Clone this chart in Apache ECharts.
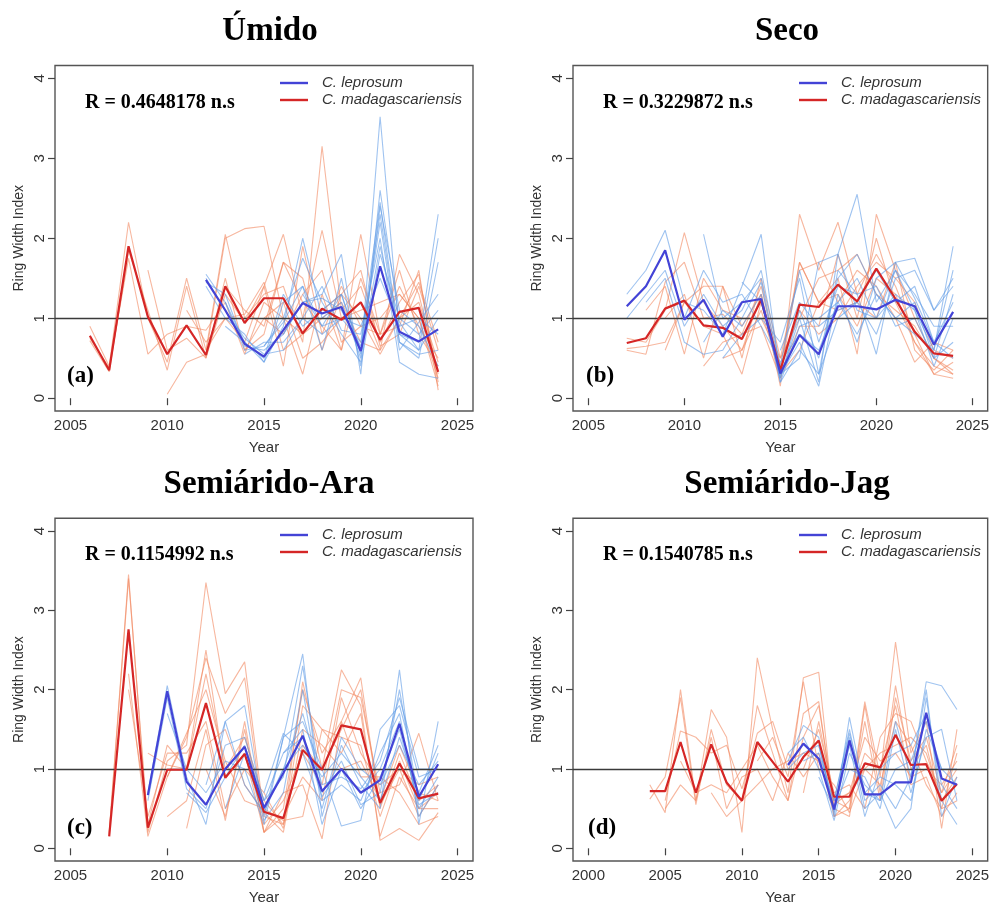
<!DOCTYPE html>
<html>
<head>
<meta charset="utf-8">
<script src="https://cdn.jsdelivr.net/npm/echarts@6/dist/echarts.min.js"></script>
<style>
  html, body { margin: 0; padding: 0; background: #fff; }
  #chart { width: 992px; height: 906px; }
</style>
</head>
<body>
<div id="chart"></div>
<script>
// titles and labels
const panelTitles = ['Úmido', 'Seco', 'Semiárido-Ara', 'Semiárido-Jag']
const panelTags = ['(a)', '(b)', '(c)', '(d)']
const rLabels = ['R = 0.4648178 n.s', 'R = 0.3229872 n.s', 'R = 0.1154992 n.s', 'R = 0.1540785 n.s']
const xTicksABC = [2005, 2010, 2015, 2020, 2025]
const xTicksD = [2000, 2005, 2010, 2015, 2020, 2025]
const yTicks = [0, 1, 2, 3, 4]

// (a) Úmido
const startMeanLepA = 2012
const meanLepA = [1.48, 1.10, 0.68, 0.52, 0.85, 1.19, 1.06, 1.14, 0.59, 1.65, 0.83, 0.71, 0.86]
const startMeanMadA = 2006
const meanMadA = [0.78, 0.35, 1.90, 1.02, 0.55, 0.91, 0.54, 1.40, 0.94, 1.25, 1.25, 0.81, 1.12, 0.98, 1.20, 0.73, 1.08, 1.13, 0.33]
const startsLepA = [2012, 2012, 2012, 2013, 2013, 2014, 2015, 2016, 2012, 2017]
const lepA = [
  [1.55, 1.20, 0.70, 0.45, 0.90, 2.00, 1.00, 1.20, 0.50, 3.52, 0.80, 0.70, 2.30],
  [1.45, 1.30, 0.65, 0.60, 0.80, 1.20, 1.30, 1.80, 0.30, 2.60, 0.95, 0.60, 2.00],
  [1.40, 1.00, 0.80, 0.45, 1.20, 1.40, 0.90, 1.00, 0.70, 2.45, 0.70, 0.50, 1.70],
  [1.20, 0.60, 0.65, 1.00, 1.75, 1.20, 0.80, 0.45, 2.40, 1.10, 0.90, 0.40],
  [0.90, 0.70, 0.50, 1.30, 0.90, 1.10, 1.30, 0.60, 2.20, 0.60, 0.95, 1.30],
  [0.55, 0.70, 0.70, 1.00, 1.40, 0.85, 0.80, 2.00, 0.45, 0.30, 0.25],
  [0.65, 0.95, 1.40, 0.60, 1.50, 0.40, 1.80, 1.00, 0.80, 1.10],
  [0.80, 1.20, 1.25, 1.10, 0.65, 2.30, 0.70, 0.55, 0.60],
  [1.50, 1.10, 0.75, 0.55, 0.60, 1.00, 0.80, 1.00, 0.90, 1.50, 0.90, 1.00, 0.80],
  [1.30, 0.90, 1.30, 0.55, 1.90, 0.80, 0.60, 1.00]
]
const startsMadA = [2006, 2006, 2006, 2010, 2009, 2012, 2013, 2014, 2011, 2015]
const madA = [
  [0.90, 0.40, 2.20, 1.00, 0.45, 1.50, 0.60, 2.05, 1.00, 1.30, 1.40, 0.70, 3.15, 1.10, 1.40, 0.70, 1.20, 1.55, 0.20],
  [0.72, 0.33, 1.85, 1.10, 0.35, 1.40, 0.50, 1.30, 0.95, 1.40, 2.05, 1.00, 2.10, 1.00, 1.20, 0.60, 1.80, 1.30, 0.30],
  [0.75, 0.38, 1.75, 0.55, 0.80, 0.90, 0.85, 1.20, 0.55, 1.20, 1.00, 0.30, 1.30, 0.60, 2.05, 0.80, 0.90, 1.60, 0.10],
  [0.05, 0.45, 0.55, 2.00, 2.12, 2.15, 1.00, 0.80, 1.10, 1.30, 1.00, 0.55, 1.00, 1.20, 0.45],
  [1.60, 0.60, 0.75, 0.50, 1.50, 0.60, 0.80, 1.70, 1.20, 0.90, 0.60, 1.50, 0.80, 1.40, 0.90, 0.50],
  [0.60, 1.00, 0.70, 1.40, 0.40, 1.90, 0.80, 1.40, 0.90, 1.00, 1.30, 1.00, 0.25],
  [1.40, 1.10, 0.90, 1.70, 1.50, 0.60, 1.30, 1.60, 0.65, 0.80, 1.40, 0.60],
  [0.60, 1.00, 0.80, 1.30, 1.60, 0.70, 0.90, 0.80, 1.60, 0.80, 0.40],
  [1.10, 0.70, 1.00, 1.05, 1.45, 0.60, 0.80, 1.00, 1.20, 0.70, 0.60, 1.00, 1.45, 0.70],
  [1.00, 1.20, 0.50, 0.70, 1.00, 1.10, 1.20, 1.30, 1.00, 0.15]
]

// (b) Seco
const startMeanLepB = 2007
const meanLepB = [1.15, 1.40, 1.85, 0.98, 1.23, 0.77, 1.20, 1.24, 0.31, 0.79, 0.55, 1.15, 1.15, 1.11, 1.23, 1.15, 0.67, 1.08]
const startMeanMadB = 2007
const meanMadB = [0.69, 0.75, 1.12, 1.22, 0.91, 0.88, 0.74, 1.23, 0.35, 1.17, 1.14, 1.42, 1.21, 1.62, 1.24, 0.83, 0.56, 0.53]
const startsLepB = [2007, 2007, 2008, 2011, 2010, 2012, 2011, 2013, 2015, 2015]
const lepB = [
  [1.30, 1.60, 2.10, 1.20, 1.10, 0.80, 1.40, 2.05, 0.25, 1.00, 0.20, 1.80, 2.55, 1.20, 1.60, 1.10, 0.60, 1.90],
  [1.00, 1.30, 1.60, 0.90, 1.30, 0.90, 1.10, 1.60, 0.40, 1.60, 0.70, 1.40, 1.30, 0.55, 1.70, 1.75, 1.10, 1.50],
  [1.20, 1.50, 0.70, 0.55, 0.60, 1.00, 1.45, 0.20, 0.60, 0.30, 1.00, 1.20, 1.60, 1.20, 1.40, 0.70, 1.20],
  [2.05, 1.00, 1.20, 1.50, 0.30, 0.50, 1.70, 1.80, 1.10, 1.00, 1.60, 1.30, 0.90, 0.90],
  [1.00, 1.60, 1.20, 1.30, 0.90, 0.45, 0.80, 0.60, 1.20, 0.80, 1.30, 1.00, 1.20, 0.50, 1.30],
  [0.50, 0.80, 1.00, 0.70, 1.50, 0.30, 1.60, 1.30, 1.40, 0.90, 1.00, 0.50, 0.70],
  [0.70, 1.10, 0.90, 1.30, 0.20, 0.90, 1.00, 1.20, 1.50, 1.00, 1.30, 1.10, 0.40, 1.00],
  [1.45, 1.20, 0.25, 1.10, 0.50, 1.50, 1.80, 1.30, 1.00, 0.80, 0.60, 1.60],
  [0.30, 0.70, 0.15, 1.30, 0.70, 1.50, 1.70, 1.25, 0.70, 0.50],
  [0.60, 1.20, 0.90, 1.10, 1.20, 0.80, 1.50, 1.60, 1.10, 1.40]
]
const startsMadB = [2007, 2007, 2007, 2008, 2009, 2011, 2009, 2012]
const madB = [
  [0.75, 0.70, 1.10, 2.07, 1.20, 0.90, 0.60, 1.30, 0.15, 2.30, 1.60, 2.20, 1.30, 1.80, 1.40, 0.80, 0.30, 0.25],
  [0.60, 0.55, 1.45, 1.70, 1.00, 1.05, 0.80, 1.40, 0.40, 1.70, 1.20, 1.50, 0.55, 2.30, 1.60, 1.00, 0.50, 0.35],
  [0.62, 0.65, 0.70, 1.20, 0.90, 0.80, 0.30, 1.20, 0.30, 0.90, 0.90, 1.80, 1.00, 2.00, 1.20, 0.70, 0.40, 0.30],
  [1.10, 1.40, 0.55, 1.50, 1.10, 1.00, 1.00, 0.50, 1.60, 1.70, 1.20, 1.60, 1.40, 1.00, 0.45, 0.70, 0.60],
  [1.00, 1.30, 0.50, 1.40, 0.90, 1.30, 0.35, 1.10, 0.80, 1.00, 1.40, 1.70, 1.50, 1.20, 0.60, 0.50],
  [0.40, 0.70, 0.80, 0.90, 0.25, 1.70, 1.20, 1.30, 0.90, 1.50, 1.30, 0.70, 0.30, 0.45],
  [0.60, 1.20, 1.40, 1.40, 0.50, 1.50, 0.50, 1.00, 1.50, 1.60, 1.80, 1.30, 1.10, 0.90, 0.50, 0.30],
  [0.50, 0.60, 1.10, 0.30, 0.60, 1.20, 1.10, 1.20, 1.00, 1.70, 0.60, 0.35, 0.60]
]

// (c) Semiárido-Ara
const startMeanLepC = 2009
const meanLepC = [0.67, 1.98, 0.84, 0.55, 1.00, 1.28, 0.51, 0.95, 1.42, 0.72, 1.00, 0.70, 0.86, 1.57, 0.65, 1.06]
const startMeanMadC = 2007
const meanMadC = [0.15, 2.76, 0.26, 0.99, 0.99, 1.83, 0.89, 1.19, 0.46, 0.38, 1.24, 0.99, 1.55, 1.50, 0.57, 1.07, 0.63, 0.69]
const startsLepC = [2009, 2009, 2010, 2011, 2012, 2013, 2015, 2015, 2016]
const lepC = [
  [0.70, 2.05, 0.90, 0.30, 1.60, 1.80, 0.40, 1.40, 2.45, 0.40, 1.30, 0.80, 0.50, 2.25, 0.30, 1.60],
  [0.60, 1.90, 0.75, 0.50, 1.30, 1.40, 0.60, 0.90, 2.30, 0.70, 1.10, 0.55, 0.70, 2.00, 0.60, 1.20],
  [1.70, 1.00, 0.70, 1.10, 1.00, 0.30, 1.40, 1.60, 1.00, 0.28, 0.35, 1.50, 1.80, 0.90, 1.00],
  [0.70, 0.45, 0.90, 1.30, 0.60, 1.20, 1.50, 0.30, 1.00, 0.70, 1.00, 1.60, 0.50, 0.90],
  [0.80, 1.60, 0.80, 0.45, 1.00, 1.30, 0.90, 1.20, 0.90, 0.60, 1.40, 0.70, 1.30],
  [0.50, 1.20, 0.35, 0.70, 2.00, 0.60, 0.80, 0.60, 1.20, 1.70, 0.40, 0.80],
  [0.70, 1.45, 1.20, 0.50, 1.40, 1.00, 0.80, 1.30, 0.80, 1.10],
  [0.50, 1.00, 1.70, 0.80, 0.90, 0.75, 1.10, 1.90, 1.00, 1.00],
  [1.20, 1.40, 0.65, 1.00, 0.50, 0.90, 1.50, 0.55, 0.70]
]
const startsMadC = [2007, 2007, 2008, 2008, 2010, 2010, 2011, 2012, 2009]
const madC = [
  [0.20, 3.45, 0.20, 1.10, 1.30, 3.35, 1.95, 2.35, 0.40, 0.30, 2.10, 1.00, 2.25, 1.80, 0.10, 0.25, 0.10, 0.45],
  [0.18, 3.40, 0.30, 1.30, 1.00, 2.50, 0.90, 1.20, 0.20, 0.50, 2.00, 1.20, 1.60, 2.15, 0.50, 1.20, 0.60, 0.80],
  [2.20, 0.15, 0.90, 1.40, 2.40, 1.70, 2.15, 0.30, 0.60, 1.20, 0.80, 2.00, 1.90, 0.70, 0.80, 1.45, 0.60],
  [2.00, 0.40, 1.20, 1.20, 1.60, 0.50, 1.00, 0.70, 0.25, 1.80, 1.50, 1.40, 1.30, 0.40, 1.10, 0.50, 0.70],
  [0.40, 0.60, 1.50, 0.35, 1.60, 0.20, 0.40, 0.90, 0.60, 1.90, 1.20, 0.80, 1.00, 0.80, 0.90],
  [0.90, 1.45, 2.00, 1.10, 0.60, 0.50, 0.35, 0.40, 1.50, 1.20, 1.70, 0.15, 0.90, 0.50, 0.50],
  [0.25, 1.30, 1.50, 0.80, 0.45, 0.20, 1.50, 1.30, 1.00, 1.10, 0.60, 1.30, 0.70, 0.60],
  [1.00, 0.40, 1.50, 0.20, 0.70, 0.80, 0.12, 1.60, 0.90, 0.90, 0.70, 0.30, 0.40],
  [1.20, 1.05, 1.00, 2.20, 1.00, 1.40, 0.60, 0.30, 1.30, 1.00, 1.50, 2.00, 0.55, 1.00, 0.40, 0.80]
]

// (d) Semiárido-Jag
const startMeanLepD = 2013
const meanLepD = [1.05, 1.32, 1.13, 0.49, 1.36, 0.68, 0.68, 0.83, 0.83, 1.71, 0.88, 0.80]
const startMeanMadD = 2004
const meanMadD = [0.72, 0.72, 1.34, 0.70, 1.31, 0.83, 0.60, 1.34, 1.09, 0.84, 1.15, 1.36, 0.65, 0.65, 1.07, 1.02, 1.43, 1.05, 1.06, 0.60, 0.81]
const startsLepD = [2013, 2013, 2013, 2014, 2015, 2015, 2016]
const lepD = [
  [1.10, 1.55, 1.40, 0.40, 1.65, 0.70, 0.60, 1.60, 0.90, 2.10, 2.05, 1.75],
  [1.00, 1.20, 1.30, 0.50, 1.40, 0.50, 0.70, 0.25, 0.50, 1.90, 0.60, 0.30],
  [1.20, 1.40, 1.00, 0.35, 1.20, 0.80, 0.60, 1.00, 1.10, 1.60, 1.00, 0.80],
  [1.10, 1.20, 0.60, 1.50, 0.60, 0.80, 0.50, 0.90, 2.00, 0.40, 0.90],
  [0.90, 0.50, 1.00, 0.90, 0.50, 1.50, 0.70, 1.40, 1.50, 0.60],
  [1.30, 0.45, 1.30, 0.40, 1.00, 1.20, 1.30, 1.70, 0.80, 0.50],
  [0.60, 1.45, 0.70, 0.90, 0.80, 0.60, 1.50, 1.00, 1.00]
]
const startsMadD = [2004, 2004, 2005, 2005, 2006, 2008, 2011, 2014]
const madD = [
  [0.80, 0.45, 2.00, 0.60, 1.75, 1.40, 0.20, 2.40, 1.50, 0.70, 2.15, 2.22, 0.40, 0.50, 1.85, 0.90, 2.60, 1.20, 1.60, 0.25, 1.50],
  [0.62, 0.90, 1.90, 0.55, 1.50, 0.80, 0.60, 1.80, 1.20, 0.60, 1.70, 1.85, 0.50, 0.40, 1.80, 0.70, 2.05, 1.00, 1.30, 0.50, 1.20],
  [0.60, 1.48, 1.40, 1.20, 1.30, 0.75, 1.45, 1.60, 1.00, 1.00, 1.50, 0.70, 0.80, 0.50, 1.40, 1.70, 1.60, 1.10, 0.70, 1.00],
  [0.50, 0.80, 0.60, 1.40, 0.50, 0.90, 1.00, 0.60, 1.20, 0.90, 1.20, 0.40, 0.60, 1.20, 1.00, 1.80, 0.80, 0.90, 0.40, 0.70],
  [1.10, 0.70, 0.80, 0.70, 1.00, 1.30, 0.90, 0.60, 1.40, 1.80, 0.55, 0.70, 1.00, 1.20, 1.30, 1.40, 1.20, 0.60, 0.90],
  [0.70, 0.40, 0.60, 0.80, 1.00, 1.10, 1.20, 1.10, 0.60, 0.50, 1.60, 0.60, 1.90, 1.10, 1.40, 0.70, 1.30],
  [1.10, 1.40, 0.90, 2.10, 1.00, 0.80, 0.45, 1.00, 0.80, 1.60, 1.30, 0.80, 0.50, 0.60],
  [0.70, 1.60, 0.60, 0.70, 1.40, 1.10, 1.20, 0.90, 1.00, 0.80, 1.10]
]

const panels = [
  { lep: lepA, lepStarts: startsLepA, mad: madA, madStarts: startsMadA, meanLep: meanLepA, meanLepStart: startMeanLepA, meanMad: meanMadA, meanMadStart: startMeanMadA, xMin: 2004.2, xMax: 2025.8, xTicks: xTicksABC },
  { lep: lepB, lepStarts: startsLepB, mad: madB, madStarts: startsMadB, meanLep: meanLepB, meanLepStart: startMeanLepB, meanMad: meanMadB, meanMadStart: startMeanMadB, xMin: 2004.2, xMax: 2025.8, xTicks: xTicksABC },
  { lep: lepC, lepStarts: startsLepC, mad: madC, madStarts: startsMadC, meanLep: meanLepC, meanLepStart: startMeanLepC, meanMad: meanMadC, meanMadStart: startMeanMadC, xMin: 2004.2, xMax: 2025.8, xTicks: xTicksABC },
  { lep: lepD, lepStarts: startsLepD, mad: madD, madStarts: startsMadD, meanLep: meanLepD, meanLepStart: startMeanLepD, meanMad: meanMadD, meanMadStart: startMeanMadD, xMin: 1999, xMax: 2026, xTicks: xTicksD }
]

// layout (pixels)
const boxes = [
  { left: 55, top: 65.5, width: 418, height: 345.5 },
  { left: 573, top: 65.5, width: 418, height: 345.5 },
  { left: 55, top: 518.3, width: 418, height: 345.7 },
  { left: 573, top: 518.3, width: 418, height: 345.7 }
]
const titlePos = [[270, 31], [787, 31], [269, 484], [787, 484]]
const rPos = [[85, 103], [603, 103], [85, 555], [603, 555]]
const tagPos = [[67, 376], [586, 376], [67, 828], [588, 828]]
const legendPos = [[275, 70], [794, 70], [275, 522], [794, 522]]

const LEP = '#4343d6'
const MAD = '#d52626'
const LEP_THIN = 'rgba(95,155,230,0.6)'
const MAD_THIN = 'rgba(242,135,95,0.6)'
const AX = '#333'
const sans = '"Liberation Sans", Arial, sans-serif'
const serif = '"Liberation Serif", "Times New Roman", serif'

const toPoints = (start, vals) => vals.map((v, i) => [start + i, v])

const lineSeries = (idx, name, pts, color, width, z) => ({
  type: 'line',
  name,
  xAxisIndex: idx,
  yAxisIndex: idx,
  data: pts,
  symbol: 'none',
  silent: true,
  z,
  lineStyle: { color, width },
  itemStyle: { color }
})

const series = []
panels.forEach((p, i) => {
  p.mad.forEach((v, k) => series.push(lineSeries(i, 'mad' + i + '_' + k, toPoints(p.madStarts[k], v), MAD_THIN, 1.1, 2)))
  p.lep.forEach((v, k) => series.push(lineSeries(i, 'lep' + i + '_' + k, toPoints(p.lepStarts[k], v), LEP_THIN, 1.1, 3)))
  series.push(lineSeries(i, 'C. madagascariensis', toPoints(p.meanMadStart, p.meanMad), MAD, 2.2, 5))
  const s = lineSeries(i, 'C. leprosum', toPoints(p.meanLepStart, p.meanLep), LEP, 2.2, 6)
  s.markLine = {
    silent: true,
    symbol: ['none', 'none'],
    label: { show: false },
    lineStyle: { color: '#3a3a3a', width: 1.4, type: 'solid' },
    data: [{ yAxis: 1 }]
  }
  series.push(s)
})

const graphic = []
panels.forEach((p, i) => {
  graphic.push({ type: 'text', x: titlePos[i][0], y: titlePos[i][1], style: { text: panelTitles[i], fill: '#000', fontFamily: serif, fontWeight: 'bold', fontSize: 33, align: 'center', verticalAlign: 'middle' } })
  graphic.push({ type: 'text', x: rPos[i][0], y: rPos[i][1], style: { text: rLabels[i], fill: '#000', fontFamily: serif, fontWeight: 'bold', fontSize: 20, align: 'left', verticalAlign: 'middle' } })
  graphic.push({ type: 'text', x: tagPos[i][0], y: tagPos[i][1], style: { text: panelTags[i], fill: '#000', fontFamily: serif, fontWeight: 'bold', fontSize: 23, align: 'left', verticalAlign: 'middle' } })
})

const option = {
  animation: false,
  backgroundColor: '#fff',
  grid: boxes.map(b => ({ ...b, show: true, borderColor: '#555', borderWidth: 1.4, backgroundColor: 'transparent', containLabel: false })),
  xAxis: panels.map((p, i) => ({
    type: 'value',
    gridIndex: i,
    min: p.xMin,
    max: p.xMax,
    name: 'Year',
    nameLocation: 'middle',
    nameGap: 29,
    nameTextStyle: { fontFamily: sans, fontSize: 15, color: AX },
    axisLine: { show: false },
    axisTick: { show: true, length: 7, lineStyle: { color: '#444', width: 1.2 }, customValues: p.xTicks },
    axisLabel: { fontFamily: sans, fontSize: 15, color: AX, margin: 7, customValues: p.xTicks, formatter: v => String(v) },
    splitLine: { show: false }
  })),
  yAxis: panels.map((p, i) => ({
    type: 'value',
    gridIndex: i,
    min: -0.16,
    max: 4.16,
    name: 'Ring Width Index',
    nameLocation: 'middle',
    nameGap: 29,
    nameTextStyle: { fontFamily: sans, fontSize: 14, color: AX },
    axisLine: { show: false },
    axisTick: { show: true, length: 7, lineStyle: { color: '#444', width: 1.2 }, customValues: yTicks },
    axisLabel: { fontFamily: sans, fontSize: 15, color: AX, margin: 8, rotate: 90, customValues: yTicks, formatter: v => String(v) },
    splitLine: { show: false }
  })),
  legend: legendPos.map(pos => ({
    data: ['C. leprosum', 'C. madagascariensis'],
    orient: 'vertical',
    left: pos[0],
    top: pos[1],
    padding: 5,
    icon: 'rect',
    itemWidth: 28,
    itemHeight: 2.4,
    itemGap: 1,
    selectedMode: false,
    textStyle: { fontFamily: sans, fontSize: 15, fontStyle: 'italic', color: AX, lineHeight: 16, padding: [0, 0, 0, 9] }
  })),
  graphic,
  series
}

const chart = echarts.init(document.getElementById('chart'))
chart.setOption(option)
</script>
</body>
</html>
